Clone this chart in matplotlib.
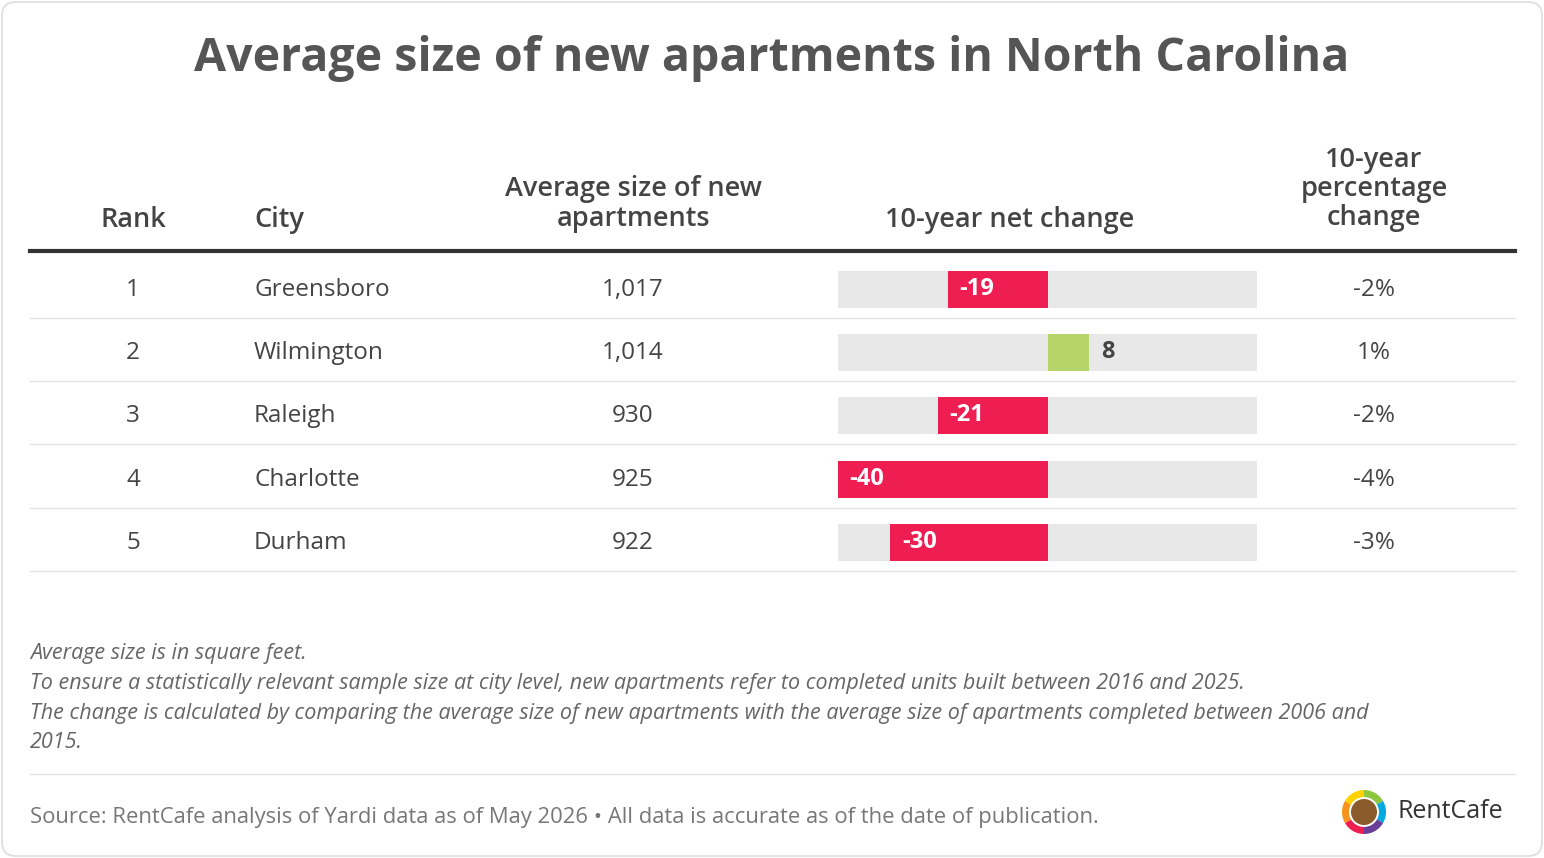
import matplotlib.pyplot as plt
from matplotlib.patches import FancyBboxPatch, Wedge, Circle

ranks = [1, 2, 3, 4, 5]
cities = ["Greensboro", "Wilmington", "Raleigh", "Charlotte", "Durham"]
sizes = ["1,017", "1,014", "930", "925", "922"]
changes = [-19, 8, -21, -40, -30]
pct = ["-2%", "1%", "-2%", "-4%", "-3%"]

plt.rcParams['font.family'] = ['Open Sans', 'DejaVu Sans']
W, H = 1544, 858
fig = plt.figure(figsize=(W / 100, H / 100), dpi=100)
ax = fig.add_axes([0, 0, 1, 1])
ax.set_xlim(0, W)
ax.set_ylim(H, 0)
ax.axis('off')

ax.add_patch(FancyBboxPatch((2, 2), W - 4, H - 4, boxstyle="round,pad=0,rounding_size=14",
                            fc='white', ec='#dddddd', lw=1.2))
txt = '#444444'
ax.text(W / 2, 58, "Average size of new apartments in North Carolina", ha='center', va='center',
        fontsize=33.5, fontweight='bold', color='#555555')

hs = 19.5
hy = 220
ax.text(133, hy, "Rank", ha='center', va='center', fontsize=hs, fontweight='semibold', color=txt)
ax.text(254, hy, "City", ha='left', va='center', fontsize=hs, fontweight='semibold', color=txt)
ax.text(633, 204, "Average size of new\napartments", ha='center', va='center', fontsize=hs,
        fontweight='semibold', color=txt, linespacing=1.05)
ax.text(1010, hy, "10-year net change", ha='center', va='center', fontsize=hs, fontweight='semibold', color=txt)
ax.text(1374, 189, "10-year\npercentage\nchange", ha='center', va='center', fontsize=hs,
        fontweight='semibold', color=txt, linespacing=1.05)
ax.plot([30, 1515], [251, 251], color='#333333', lw=3)

bs = 17.5
rows = [289, 352, 415, 479, 542]
for i, y in enumerate(rows):
    if i % 2 == 1:
        ax.add_patch(plt.Rectangle((30, y - 33), 1485, 64, fc='#f7f8fa', ec='none', zorder=0))
    ax.plot([30, 1515], [y + 29, y + 29], color='#e3e3e3', lw=1)
    ax.text(133, y + 1, str(ranks[i]), ha='center', va='center', fontsize=bs, color=txt)
    ax.text(254, y + 1, cities[i], ha='left', va='center', fontsize=bs, color=txt)
    ax.text(633, y + 1, sizes[i], ha='center', va='center', fontsize=bs, color=txt)
    ax.text(1374, y + 1, pct[i], ha='center', va='center', fontsize=bs, color=txt)

bx = fig.add_axes([838 / W, 0, 419 / W, 1])
bx.set_xlim(-40, 40)
bx.set_ylim(H, 0)
bx.axis('off')
bx.barh(rows, [80] * 5, left=-40, height=37, color='#e8e8e8')
cols = ['#ee1e52' if v < 0 else '#b5d56a' for v in changes]
bx.barh(rows, changes, height=37, color=cols)
for y, v in zip(rows, changes):
    if v < 0:
        bx.text(v + 2.2, y, str(v), ha='left', va='center', fontsize=17, fontweight='bold', color='white')
    else:
        bx.text(v + 2.2, y, str(v), ha='left', va='center', fontsize=17, fontweight='bold', color=txt)

notes = ["Average size is in square feet.",
         "To ensure a statistically relevant sample size at city level, new apartments refer to completed units built between 2016 and 2025.",
         "The change is calculated by comparing the average size of new apartments with the average size of apartments completed between 2006 and",
         "2015."]
for k, n in enumerate(notes):
    ax.text(30, 654 + k * 29.5, n, ha='left', va='center', fontsize=15.5, style='italic', color='#666666')
ax.plot([30, 1515], [774, 774], color='#e3e3e3', lw=1)
ax.text(30, 817, "Source: RentCafe analysis of Yardi data as of May 2026 \u2022 All data is accurate as of the date of publication.",
        ha='left', va='center', fontsize=15.8, color='#777777')

# logo
lc = (1364, 812)
logo_cols = ['#ee1e52', '#f7941d', '#ffd200', '#8dc63f', '#00a9e0', '#6a3e98']
for j, c in enumerate(logo_cols):
    ax.add_patch(Wedge(lc, 22, 90 + j * 60, 150 + j * 60, width=7, fc=c, ec='none'))
ax.add_patch(Circle(lc, 13, fc='#8b5a2b', ec='none'))
ax.text(1397, 812, "RentCafe", ha='left', va='center', fontsize=18, color='#333333')

fig.savefig('out.png', dpi=100)
